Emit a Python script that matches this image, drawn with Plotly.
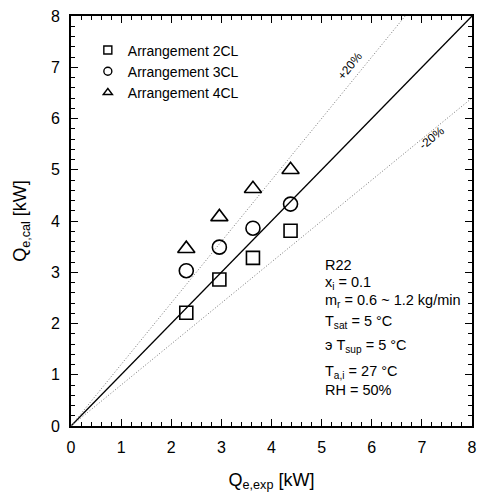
import plotly.graph_objects as go

# Data
q_exp = [2.30, 2.96, 3.63, 4.38]
q_cal_2cl = [2.21, 2.86, 3.28, 3.81]
q_cal_3cl = [3.03, 3.49, 3.86, 4.33]
q_cal_4cl = [3.46, 4.08, 4.63, 5.00]
series_names = ["Arrangement 2CL", "Arrangement 3CL", "Arrangement 4CL"]
ref_x = [0, 8]
ref_y = [0, 8]
plus20_x = [0, 8 / 1.2]
plus20_y = [0, 8]
minus20_x = [0, 8]
minus20_y = [0, 6.4]
major_ticks = [0, 1, 2, 3, 4, 5, 6, 7, 8]
minor_step = 0.2
info_lines = [
    "R22",
    "x<sub>i</sub> = 0.1",
    "m<sub>r</sub> = 0.6 ~ 1.2 kg/min",
    "T<sub>sat</sub> = 5 \u00b0C",
    "\u044d T<sub>sup</sub> = 5 \u00b0C",
    "T<sub>a,i</sub> = 27 \u00b0C",
    "RH = 50%",
]
info_y = [3.15, 2.80, 2.43, 2.02, 1.57, 1.06, 0.70]

FONT = "Liberation Sans, Arial, sans-serif"
fig = go.Figure()

fig.add_trace(go.Scatter(x=ref_x, y=ref_y, mode="lines",
                         line=dict(color="black", width=1.3), showlegend=False))
fig.add_trace(go.Scatter(x=plus20_x, y=plus20_y, mode="lines",
                         line=dict(color="#777777", width=1, dash="1px,2px"), showlegend=False))
fig.add_trace(go.Scatter(x=minus20_x, y=minus20_y, mode="lines",
                         line=dict(color="#777777", width=1, dash="1px,2px"), showlegend=False))

symbols = ["square-open", "circle-open", "triangle-up-open"]
sizes = [13, 14, 15]
for ys, sym, sz, nm in zip([q_cal_2cl, q_cal_3cl, q_cal_4cl], symbols, sizes, series_names):
    fig.add_trace(go.Scatter(x=q_exp, y=ys, mode="markers", name=nm, showlegend=False,
                             marker=dict(symbol=sym, size=sz, color="black",
                                         line=dict(width=1.6, color="black"))))
    fig.add_trace(go.Scatter(x=[None], y=[None], mode="markers", name=nm,
                             marker=dict(symbol=sym, size=8, color="black",
                                         line=dict(width=1.4, color="black"))))

annots = []
for t, yv in zip(info_lines, info_y):
    annots.append(dict(x=5.02, y=yv, xref="x", yref="y", text=t, showarrow=False,
                       xanchor="left", yanchor="middle",
                       font=dict(size=14.5, color="black", family=FONT)))
annots.append(dict(x=5.56, y=7.03, xref="x", yref="y", text="+20%", showarrow=False,
                   textangle=-51, font=dict(size=12, color="black", family=FONT)))
annots.append(dict(x=7.2, y=5.61, xref="x", yref="y", text="-20%", showarrow=False,
                   textangle=-39, font=dict(size=12, color="black", family=FONT)))

fig.update_layout(
    width=485, height=495,
    margin=dict(l=71, r=8, t=15, b=67),
    paper_bgcolor="white", plot_bgcolor="white",
    font=dict(family=FONT, color="black"),
    legend=dict(x=0.042, y=0.955, xanchor="left", yanchor="top",
                bgcolor="rgba(0,0,0,0)", borderwidth=0,
                font=dict(size=14, family=FONT, color="black"),
                tracegroupgap=0, itemsizing="trace"),
    annotations=annots,
    showlegend=True,
)
for upd, title, so in [(fig.update_xaxes, "Q<sub>e,exp</sub> [kW]", 18),
                       (fig.update_yaxes, "Q<sub>e,cal</sub> [kW]", 20)]:
    upd(range=[0, 8], tickmode="array", tickvals=major_ticks,
        ticktext=[str(t) for t in major_ticks],
        ticks="inside", ticklen=7, tickwidth=1.4, tickcolor="black",
        showline=True, linecolor="black", linewidth=1.6, mirror="ticks",
        showgrid=False, zeroline=False, ticklabelstandoff=6,
        tickfont=dict(size=16, color="black", family=FONT),
        minor=dict(ticks="inside", tick0=0, dtick=minor_step, ticklen=4,
                   tickwidth=1, tickcolor="black", showgrid=False),
        title_text=title, title_font=dict(size=18, family=FONT), title_standoff=so)

fig.write_html("out.html")
